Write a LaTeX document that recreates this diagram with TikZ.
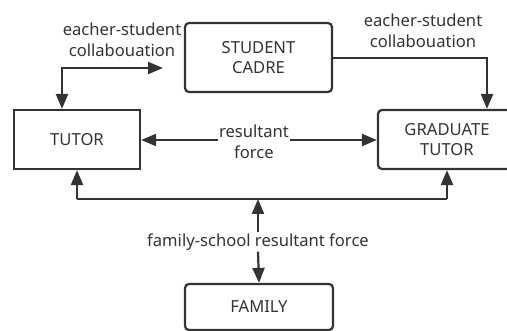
\documentclass[tikz,border=0pt]{standalone}
\usepackage{fontspec}
\setmainfont{Noto Sans}
\usetikzlibrary{arrows.meta,positioning}
\definecolor{inkgray}{HTML}{333333}

\begin{document}
\begin{tikzpicture}[x=1pt,y=-1pt,
font=\fontsize{16.6}{20.5}\selectfont,
every node/.style={text=inkgray,align=center},
box/.style={draw=inkgray,line width=2.2pt,fill=white,inner sep=0pt},
conn/.style={draw=inkgray,line width=2.2pt,-{Triangle[length=15pt,width=12pt]}},
both/.style={conn,{Triangle[length=15pt,width=12pt]}-{Triangle[length=15pt,width=12pt]}},
lbl/.style={fill=white,inner sep=1pt}]
\useasboundingbox (0,0) rectangle (507,331);

% boxes
\node[box,rounded corners=4pt,minimum width=147pt,minimum height=69pt] (cadre) at (258.5,57.5) {STUDENT\\CADRE};
\node[box,minimum width=126pt,minimum height=59pt] (tutor) at (77,139.5) {TUTOR};
\node[box,rounded corners=4pt,minimum width=138pt,minimum height=59pt] (grad) at (447,139.5) {GRADUATE\\TUTOR};
\node[box,rounded corners=4pt,minimum width=148pt,minimum height=46pt] (family) at (259,307) {FAMILY};

% labels
\node (lefttop) at (122,40) {eacher-student\\collabouation};
\node (righttop) at (423,31) {eacher-student\\collabouation};
\node[lbl] (resforce) at (254,142) {resultant\\force};
\node[lbl] (famforce) at (258,242) {family-school resultant force};

\coordinate (tl) at (163,68);
\coordinate (junc) at (258,199);
\coordinate (jleft) at (77,199);
\coordinate (jright) at (447,199);

% teacher-student links
\draw[both] (tl) -| (tutor.north -| 62,0);
\draw[conn] (cadre.east |- 0,58) -| (grad.north -| 487,0);

% resultant force
\draw[conn] (resforce.west |- 0,140) -- (tutor.east |- 0,140);
\draw[conn] (resforce.east |- 0,140) -- (grad.west |- 0,140);

% family-school
\draw[draw=inkgray,line width=2.2pt] (jleft) -- (jright);
\draw[conn] (jleft) -- (tutor.south);
\draw[conn] (jright) -- (grad.south -| jright);
\draw[conn] (famforce.north) -- (junc);
\draw[conn] (famforce.south) -- (family.north);
\end{tikzpicture}
\end{document}
